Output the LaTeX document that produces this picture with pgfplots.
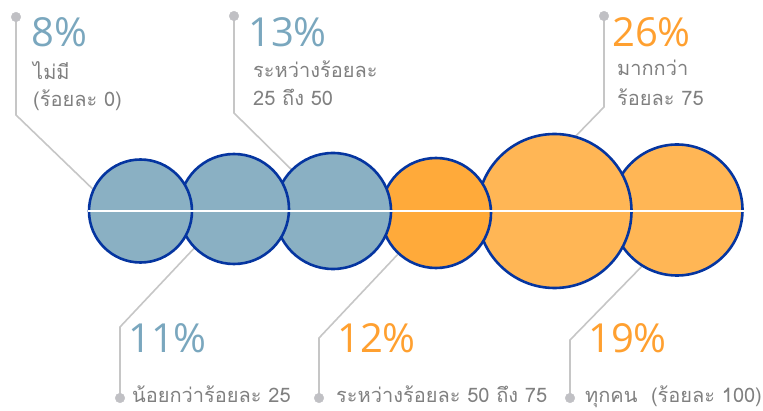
\documentclass[border=0pt]{standalone}
\usepackage{pgfplots}
\pgfplotsset{compat=1.18}
\usepackage{fontspec}
\setmainfont{Open Sans}
\newfontfamily\thaifont[Script=Thai]{Loma}
\definecolor{cblue}{HTML}{8AB0C3}
\definecolor{corange}{HTML}{FFAA3A}
\definecolor{clight}{HTML}{FFB655}
\definecolor{cline}{HTML}{0535A0}
\definecolor{pblue}{HTML}{7AA7BE}
\definecolor{porange}{HTML}{FFA030}
\definecolor{tgray}{HTML}{808080}
\definecolor{lgray}{HTML}{C6C6C6}
\definecolor{dgray}{HTML}{C0C0C4}
\begin{document}
\begin{tikzpicture}
\begin{axis}[width=763pt,height=410pt,scale only axis,set layers,
  xmin=0,xmax=763,ymin=0,ymax=410,y dir=reverse,hide axis,clip=false]
% callout lines
\addplot[lgray,line width=1.6pt,no marks] coordinates {(16,17) (16,115) (100,196)};
\addplot[lgray,line width=1.6pt,no marks] coordinates {(234,16) (234,113) (298,176)};
\addplot[lgray,line width=1.6pt,no marks] coordinates {(604,16) (604,107) (570,142)};
\addplot[lgray,line width=1.6pt,no marks] coordinates {(120,398) (120,327) (200,242)};
\addplot[lgray,line width=1.6pt,no marks] coordinates {(319,398) (319,338) (400,252)};
\addplot[lgray,line width=1.6pt,no marks] coordinates {(570,398) (570,340) (650,258)};
\addplot[only marks,mark=*,mark size=4.8,draw=dgray,fill=dgray] coordinates {(16,17) (234,16) (604,16) (120,398) (319,398) (570,398)};
% circles (right to left, left ones on top)
\addplot[only marks,mark=*,mark size=65.5,mark options={draw=cline,fill=clight,line width=2.6pt}] coordinates {(677,210)};
\addplot[only marks,mark=*,mark size=77,mark options={draw=cline,fill=clight,line width=2.6pt}] coordinates {(554.5,211)};
\addplot[only marks,mark=*,mark size=55,mark options={draw=cline,fill=corange,line width=2.6pt}] coordinates {(436,213)};
\addplot[only marks,mark=*,mark size=58,mark options={draw=cline,fill=cblue,line width=2.6pt}] coordinates {(333,211)};
\addplot[only marks,mark=*,mark size=55,mark options={draw=cline,fill=cblue,line width=2.6pt}] coordinates {(234,209)};
\addplot[only marks,mark=*,mark size=51.5,mark options={draw=cline,fill=cblue,line width=2.6pt}] coordinates {(140.5,211)};
% white line
\addplot[white,line width=2.6pt,no marks,on layer=axis foreground] coordinates {(88,211) (745,211)};
% texts
\tikzset{pct/.style={anchor=base west,inner sep=0pt,font=\fontsize{40}{40}\selectfont},
  lab/.style={anchor=base west,inner sep=0pt,text=tgray,font=\thaifont\fontsize{20}{20}\selectfont}}
\node[pct,text=pblue] at (axis cs:31,47) {8\%};
\node[lab] at (axis cs:33,80) {ไม่มี};
\node[lab] at (axis cs:33,107) {(ร้อยละ 0)};
\node[pct,text=pblue] at (axis cs:248,47) {13\%};
\node[lab] at (axis cs:253,78) {ระหว่างร้อยละ};
\node[lab] at (axis cs:253,106) {25 ถึง 50};
\node[pct,text=porange] at (axis cs:612,47) {26\%};
\node[lab] at (axis cs:617,76) {มากกว่า};
\node[lab] at (axis cs:617,106) {ร้อยละ 75};
\node[pct,text=pblue] at (axis cs:128,352) {11\%};
\node[lab] at (axis cs:132,402) {น้อยกว่าร้อยละ 25};
\node[pct,text=porange] at (axis cs:337,352) {12\%};
\node[lab] at (axis cs:336,402) {ระหว่างร้อยละ 50 ถึง 75};
\node[pct,text=porange] at (axis cs:588,352) {19\%};
\node[lab] at (axis cs:585,402) {ทุกคน~~(ร้อยละ 100)};
\end{axis}
\pgfresetboundingbox
\path (current axis.south west) rectangle (current axis.north east);
\end{tikzpicture}
\end{document}
